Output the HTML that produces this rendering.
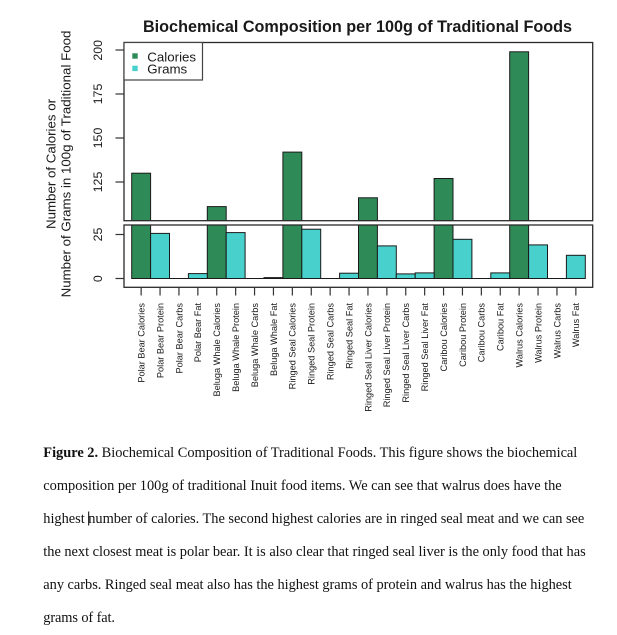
<!DOCTYPE html>
<html>
<head>
<meta charset="utf-8">
<style>
html,body{margin:0;padding:0;background:#fff;}
svg{display:block;}
.ax{font-family:"Liberation Sans",Arial,sans-serif;fill:#1a1a1a;}
.cap{font-family:"Liberation Serif","Times New Roman",serif;font-size:14.4px;fill:#111;}
</style>
</head>
<body>
<svg width="617" height="635" viewBox="0 0 617 635" xmlns="http://www.w3.org/2000/svg">
<defs>
<clipPath id="ct"><rect x="124" y="42.5" width="468.7" height="178.2"/></clipPath>
<clipPath id="cb"><rect x="124" y="225" width="468.7" height="62.3"/></clipPath>
</defs>

<!-- Title -->
<text class="ax" x="357.5" y="32" font-size="16.2" font-weight="bold" text-anchor="middle" fill="#000">Biochemical Composition per 100g of Traditional Foods</text>

<!-- Y axis title -->
<text class="ax" font-size="13.3" text-anchor="middle" transform="translate(55.7,164) rotate(-90)">Number of Calories or</text>
<text class="ax" font-size="13.3" text-anchor="middle" transform="translate(70.4,164) rotate(-90)">Number of Grams in 100g of Traditional Food</text>

<!-- Top panel bars -->
<g clip-path="url(#ct)" stroke="#1a1a1a" stroke-width="1" fill="#2E8B57">
<rect x="131.7" y="173.2" width="18.9" height="60"/>
<rect x="207.3" y="206.6" width="18.9" height="30"/>
<rect x="282.9" y="152.1" width="18.9" height="80"/>
<rect x="358.5" y="197.8" width="18.9" height="40"/>
<rect x="434.1" y="178.5" width="18.9" height="60"/>
<rect x="509.7" y="51.8" width="18.9" height="180"/>
</g>

<!-- Bottom panel bars -->
<g clip-path="url(#cb)" stroke="#1a1a1a" stroke-width="1">
<g fill="#2E8B57">
<rect x="131.7" y="215" width="18.9" height="63.5"/>
<rect x="207.3" y="215" width="18.9" height="63.5"/>
<rect x="282.9" y="215" width="18.9" height="63.5"/>
<rect x="358.5" y="215" width="18.9" height="63.5"/>
<rect x="434.1" y="215" width="18.9" height="63.5"/>
<rect x="509.7" y="215" width="18.9" height="63.5"/>
</g>
<g fill="#48D1CC">
<rect x="150.6" y="233.4" width="18.9" height="45.1"/>
<rect x="188.4" y="273.6" width="18.9" height="4.9"/>
<rect x="226.2" y="232.6" width="18.9" height="45.9"/>
<rect x="264.0" y="277.6" width="18.9" height="0.9"/>
<rect x="301.8" y="229.2" width="18.9" height="49.3"/>
<rect x="339.6" y="273.2" width="18.9" height="5.3"/>
<rect x="377.4" y="245.9" width="18.9" height="32.6"/>
<rect x="396.3" y="273.9" width="18.9" height="4.6"/>
<rect x="415.2" y="272.9" width="18.9" height="5.6"/>
<rect x="453.0" y="239.3" width="18.9" height="39.2"/>
<rect x="490.8" y="272.9" width="18.9" height="5.6"/>
<rect x="528.6" y="244.9" width="18.9" height="33.6"/>
<rect x="566.4" y="255.3" width="18.9" height="23.2"/>
</g>
<!-- zero bars -->
<line x1="169.5" y1="278.5" x2="188.4" y2="278.5"/>
<line x1="245.1" y1="278.5" x2="264.0" y2="278.5"/>
<line x1="320.7" y1="278.5" x2="339.6" y2="278.5"/>
<line x1="471.9" y1="278.5" x2="490.8" y2="278.5"/>
<line x1="547.5" y1="278.5" x2="566.4" y2="278.5"/>
</g>

<!-- Panel boxes -->
<rect x="124" y="42.5" width="468.7" height="178.2" fill="none" stroke="#2a2a2a" stroke-width="1.3"/>
<rect x="124" y="225" width="468.7" height="62.3" fill="none" stroke="#2a2a2a" stroke-width="1.3"/>

<!-- Legend -->
<rect x="124" y="42.5" width="78.5" height="37.5" fill="#fff" stroke="#444" stroke-width="1.2"/>
<rect x="132.3" y="53.3" width="5.4" height="5.4" fill="#2E8B57"/>
<rect x="132.3" y="65.7" width="5.4" height="5.4" fill="#48D1CC"/>
<text class="ax" x="147.3" y="61.3" font-size="13.3">Calories</text>
<text class="ax" x="147.3" y="73.7" font-size="13.3">Grams</text>

<!-- Y ticks -->
<g stroke="#333" stroke-width="1.2">
<line x1="115.5" y1="50" x2="124" y2="50"/>
<line x1="115.5" y1="94" x2="124" y2="94"/>
<line x1="115.5" y1="138" x2="124" y2="138"/>
<line x1="115.5" y1="182" x2="124" y2="182"/>
<line x1="115.5" y1="234.5" x2="124" y2="234.5"/>
<line x1="115.5" y1="278.5" x2="124" y2="278.5"/>
</g>
<g class="ax" font-size="12.4" text-anchor="middle">
<text transform="translate(102,50.3) rotate(-90)">200</text>
<text transform="translate(102,94) rotate(-90)">175</text>
<text transform="translate(102,138) rotate(-90)">150</text>
<text transform="translate(102,182) rotate(-90)">125</text>
<text transform="translate(102,234.5) rotate(-90)">25</text>
<text transform="translate(102,278.7) rotate(-90)">0</text>
</g>

<!-- X ticks -->
<g stroke="#333" stroke-width="1.2">
<line x1="141.15" y1="287.3" x2="141.15" y2="295.5"/>
<line x1="160.05" y1="287.3" x2="160.05" y2="295.5"/>
<line x1="178.95" y1="287.3" x2="178.95" y2="295.5"/>
<line x1="197.85" y1="287.3" x2="197.85" y2="295.5"/>
<line x1="216.75" y1="287.3" x2="216.75" y2="295.5"/>
<line x1="235.65" y1="287.3" x2="235.65" y2="295.5"/>
<line x1="254.55" y1="287.3" x2="254.55" y2="295.5"/>
<line x1="273.45" y1="287.3" x2="273.45" y2="295.5"/>
<line x1="292.35" y1="287.3" x2="292.35" y2="295.5"/>
<line x1="311.25" y1="287.3" x2="311.25" y2="295.5"/>
<line x1="330.15" y1="287.3" x2="330.15" y2="295.5"/>
<line x1="349.05" y1="287.3" x2="349.05" y2="295.5"/>
<line x1="367.95" y1="287.3" x2="367.95" y2="295.5"/>
<line x1="386.85" y1="287.3" x2="386.85" y2="295.5"/>
<line x1="405.75" y1="287.3" x2="405.75" y2="295.5"/>
<line x1="424.65" y1="287.3" x2="424.65" y2="295.5"/>
<line x1="443.55" y1="287.3" x2="443.55" y2="295.5"/>
<line x1="462.45" y1="287.3" x2="462.45" y2="295.5"/>
<line x1="481.35" y1="287.3" x2="481.35" y2="295.5"/>
<line x1="500.25" y1="287.3" x2="500.25" y2="295.5"/>
<line x1="519.15" y1="287.3" x2="519.15" y2="295.5"/>
<line x1="538.05" y1="287.3" x2="538.05" y2="295.5"/>
<line x1="556.95" y1="287.3" x2="556.95" y2="295.5"/>
<line x1="575.85" y1="287.3" x2="575.85" y2="295.5"/>
</g>

<!-- X labels -->
<g class="ax" font-size="9.2" text-anchor="end">
<text transform="translate(144.45,303) rotate(-90)">Polar Bear Calories</text>
<text transform="translate(163.35,303) rotate(-90)">Polar Bear Protein</text>
<text transform="translate(182.25,303) rotate(-90)">Polar Bear Carbs</text>
<text transform="translate(201.15,303) rotate(-90)">Polar Bear Fat</text>
<text transform="translate(220.05,303) rotate(-90)">Beluga Whale Calories</text>
<text transform="translate(238.95,303) rotate(-90)">Beluga Whale Protein</text>
<text transform="translate(257.85,303) rotate(-90)">Beluga Whale Carbs</text>
<text transform="translate(276.75,303) rotate(-90)">Beluga Whale Fat</text>
<text transform="translate(295.65,303) rotate(-90)">Ringed Seal Calories</text>
<text transform="translate(314.55,303) rotate(-90)">Ringed Seal Protein</text>
<text transform="translate(333.45,303) rotate(-90)">Ringed Seal Carbs</text>
<text transform="translate(352.35,303) rotate(-90)">Ringed Seal Fat</text>
<text transform="translate(371.25,303) rotate(-90)">Ringed Seal Liver Calories</text>
<text transform="translate(390.15,303) rotate(-90)">Ringed Seal Liver Protein</text>
<text transform="translate(409.05,303) rotate(-90)">Ringed Seal Liver Carbs</text>
<text transform="translate(427.95,303) rotate(-90)">Ringed Seal Liver Fat</text>
<text transform="translate(446.85,303) rotate(-90)">Caribou Calories</text>
<text transform="translate(465.75,303) rotate(-90)">Caribou Protein</text>
<text transform="translate(484.65,303) rotate(-90)">Caribou Carbs</text>
<text transform="translate(503.55,303) rotate(-90)">Caribou Fat</text>
<text transform="translate(522.45,303) rotate(-90)">Walrus Calories</text>
<text transform="translate(541.35,303) rotate(-90)">Walrus Protein</text>
<text transform="translate(560.25,303) rotate(-90)">Walrus Carbs</text>
<text transform="translate(579.15,303) rotate(-90)">Walrus Fat</text>
</g>

<!-- Caption -->
<text class="cap" x="43.3" y="457" textLength="534" lengthAdjust="spacing"><tspan font-weight="bold">Figure 2.</tspan> Biochemical Composition of Traditional Foods. This figure shows the biochemical</text>
<text class="cap" x="43.3" y="490" textLength="518.4" lengthAdjust="spacing">composition per 100g of traditional Inuit food items. We can see that walrus does have the</text>
<text class="cap" x="43.3" y="523" textLength="541" lengthAdjust="spacing">highest number of calories. The second highest calories are in ringed seal meat and we can see</text>
<text class="cap" x="43.3" y="556" textLength="542.4" lengthAdjust="spacing">the next closest meat is polar bear. It is also clear that ringed seal liver is the only food that has</text>
<text class="cap" x="43.3" y="589" textLength="528.4" lengthAdjust="spacing">any carbs. Ringed seal meat also has the highest grams of protein and walrus has the highest</text>
<text class="cap" x="43.3" y="622" textLength="71.7" lengthAdjust="spacing">grams of fat.</text>
<line x1="88.7" y1="511.5" x2="88.7" y2="525.5" stroke="#000" stroke-width="1"/>
</svg>
</body>
</html>
